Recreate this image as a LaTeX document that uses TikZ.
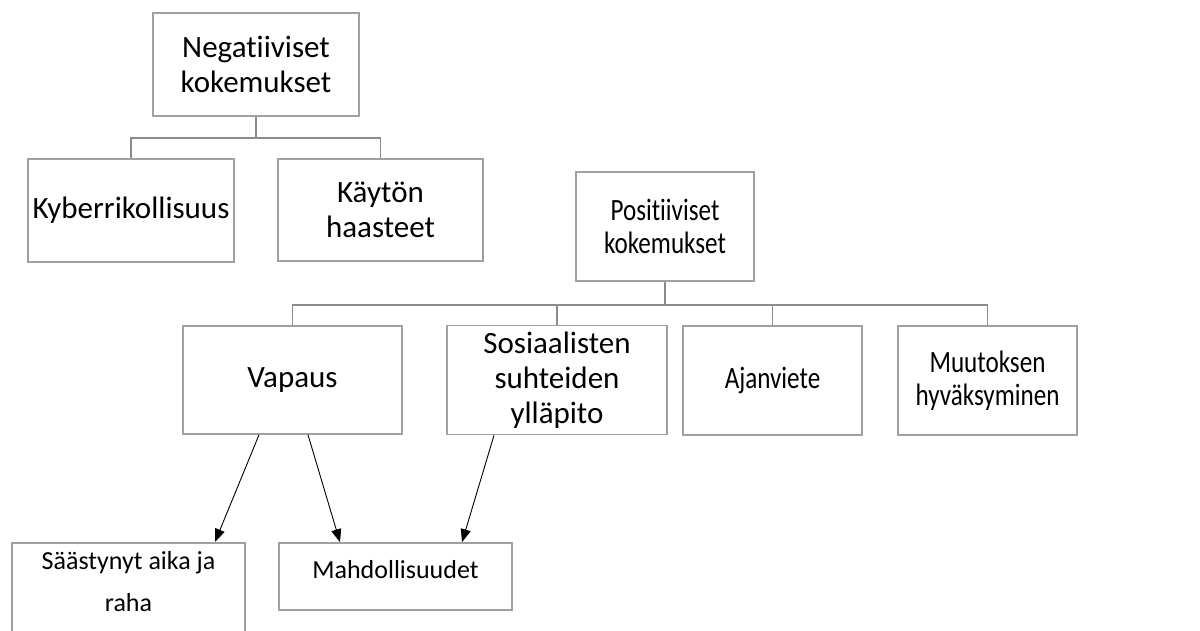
\documentclass[tikz,border=0pt]{standalone}
\usepackage{fontspec}
\setmainfont{Carlito}[RawFeature={-liga}]
\newfontfamily\narrowfont{Carlito}[FakeStretch=0.81, RawFeature={-liga}]
\usetikzlibrary{arrows.meta,positioning,calc}
\definecolor{boxgray}{HTML}{A0A0A0}
\definecolor{linegray}{HTML}{8C8C8C}

\begin{document}
\begin{tikzpicture}[
  x=1pt, y=-1pt,
  box/.style={draw=boxgray, line width=1.6pt, inner sep=2pt, align=center, font=\fontsize{31}{35}\selectfont},
  boxs/.style={box, font=\narrowfont\fontsize{31}{33}\selectfont},
  leaf/.style={draw=boxgray, line width=1.6pt, inner sep=2pt, align=center, font=\fontsize{26}{42}\selectfont},
  tree/.style={draw=linegray, line width=1.8pt},
  arr/.style={-{Triangle[length=13pt,width=10pt]}, line width=0.9pt, black}
]
\useasboundingbox (0,0) rectangle (1200,630);
\clip (0,0) rectangle (1200,630);

\node[box, minimum width=206pt, minimum height=103pt] (neg) at (256,64.5) {Negatiiviset\\kokemukset};
\node[box, minimum width=206pt, minimum height=103pt] (kyber) at (131,210.5) {Kyberrikollisuus};
\node[box, minimum width=205pt, minimum height=102pt] (kaytto) at (380.5,210) {Käytön\\haasteet};

\node[boxs, minimum width=178pt, minimum height=109pt] (pos) at (665,226.5) {Positiiviset\\kokemukset};
\node[box, minimum width=219pt, minimum height=108pt] (vapaus) at (292.5,380) {Vapaus};
\node[box, minimum width=220pt, minimum height=109pt] (sosiaal) at (557,380) {Sosiaalisten\\suhteiden\\ylläpito};
\node[boxs, minimum width=179pt, minimum height=109pt] (ajanv) at (772.5,380.5) {Ajanviete};
\node[boxs, minimum width=179pt, minimum height=109pt] (muutos) at (987.5,380.5) {Muutoksen\\hyväksyminen};

\node[leaf, minimum width=233pt, minimum height=110pt, anchor=north] (saast) at (128.5,542) {};
\node[leaf, draw=none, below=7pt of saast.north] (saasttxt) {Säästynyt aika ja\\raha};
\node[leaf, minimum width=233pt, minimum height=67pt, text depth=15pt] (mahd) at (395.5,576.5) {Mahdollisuudet};

\coordinate (negbus) at ($(neg.south)+(0,21)$);
\draw[tree] (neg.south) -- (negbus) -| (kyber.north);
\draw[tree] (negbus) -| (kaytto.north);
\coordinate (posbus) at ($(pos.south)+(0,23)$);
\foreach \k in {vapaus,sosiaal,ajanv,muutos}
  \draw[tree] (pos.south) -- (posbus) -| (\k.north);

\draw[arr] ([xshift=-33.5pt]vapaus.south) -- ([xshift=86.5pt]saast.north);
\draw[arr] ([xshift=15.5pt]vapaus.south) -- ([xshift=-55.5pt]mahd.north);
\draw[arr] ([xshift=-63pt]sosiaal.south) -- ([xshift=66.5pt]mahd.north);
\end{tikzpicture}
\end{document}
